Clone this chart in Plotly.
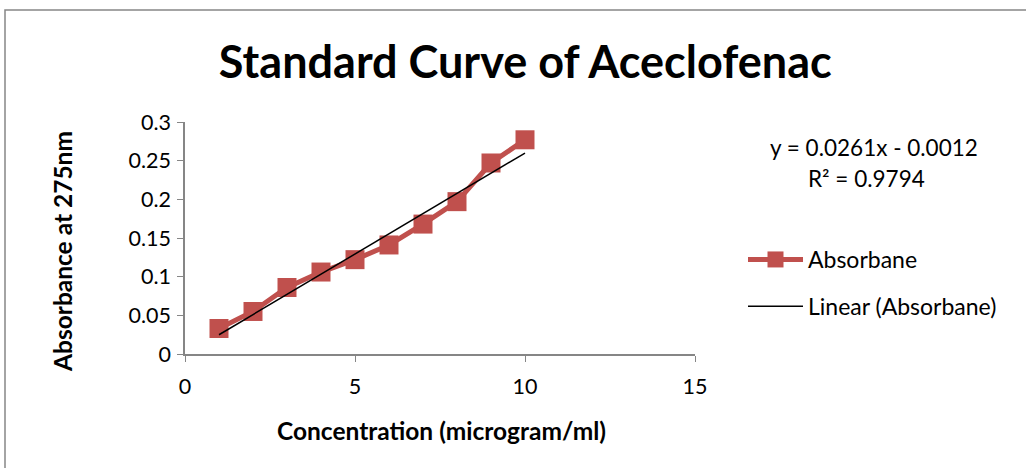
import plotly.graph_objects as go

concentration = [1, 2, 3, 4, 5, 6, 7, 8, 9, 10]
absorbance = [0.033, 0.055, 0.086, 0.106, 0.122, 0.141, 0.168, 0.197, 0.247, 0.277]
slope = 0.0261
intercept = -0.0012
r_squared = 0.9794
x_ticks = [0, 5, 10, 15]
y_ticks = [0, 0.05, 0.1, 0.15, 0.2, 0.25, 0.3]
y_tick_labels = ["0", "0.05", "0.1", "0.15", "0.2", "0.25", "0.3"]

FONT = "Lato, 'Open Sans', sans-serif"
RED = "#C0504D"
GRAY = "#868686"

trend_x = [concentration[0], concentration[-1]]
trend_y = [slope * v + intercept for v in trend_x]

fig = go.Figure()
fig.add_trace(go.Scatter(
    x=concentration, y=absorbance, mode="lines+markers", name="Absorbane",
    line=dict(color=RED, width=5),
    marker=dict(symbol="square", size=19, color=RED),
    legendgroup="a",
))
fig.add_trace(go.Scatter(
    x=trend_x, y=trend_y, mode="lines", name="Linear (Absorbane)",
    line=dict(color="black", width=1.5),
    legendgroup="b",
))

L, R, T, B = 185, 1026 - 695, 122, 468 - 354
pw, ph = 1026 - L - R, 468 - T - B

def px(x):
    return (x - L) / pw

def py(y):
    return (468 - B - y) / ph

eq_text = f"y = {slope:.4f}x - {abs(intercept):.4f}"

fig.update_layout(
    width=1026, height=468,
    margin=dict(l=L, r=R, t=T, b=B, pad=0),
    paper_bgcolor="white", plot_bgcolor="white",
    font=dict(family=FONT, size=21, color="black"),
    title=dict(text="<b>Standard Curve of Aceclofenac</b>", x=0.512, xref="container",
               y=1 - 62 / 468, yref="container", xanchor="center", yanchor="middle",
               font=dict(family=FONT, size=45, color="black")),
    xaxis=dict(range=[0, 15], tickvals=x_ticks, showgrid=False, zeroline=False,
               showline=True, linecolor=GRAY, linewidth=1.5, ticks="outside",
               ticklen=6, tickcolor=GRAY, tickfont=dict(size=21.5), ticklabelstandoff=6),
    yaxis=dict(range=[0, 0.3], tickvals=y_ticks, ticktext=y_tick_labels, showgrid=False,
               zeroline=False, showline=True, linecolor=GRAY, linewidth=1.5,
               ticks="outside", ticklen=6, tickcolor=GRAY, tickfont=dict(size=21.5),
               ticklabelstandoff=2),
    showlegend=True,
    legend=dict(x=px(743), y=py(238), xanchor="left", yanchor="top",
                font=dict(size=23), tracegroupgap=14, traceorder="grouped",
                itemwidth=55, bgcolor="rgba(0,0,0,0)"),
    annotations=[
        dict(text=eq_text, x=px(874), y=py(147), xref="paper", yref="paper", showarrow=False,
             xanchor="center", yanchor="middle", font=dict(size=22.5)),
        dict(text=f"R² = {r_squared}", x=px(866), y=py(178), xref="paper", yref="paper",
             showarrow=False, xanchor="center", yanchor="middle", font=dict(size=22.5)),
        dict(text="<b>Concentration (microgram/ml)</b>", x=px(441), y=py(430), xref="paper",
             yref="paper", showarrow=False, xanchor="center", yanchor="middle",
             font=dict(size=24.5)),
        dict(text="<b>Absorbance at 275nm</b>", x=px(62), y=py(252), xref="paper",
             yref="paper", showarrow=False, xanchor="center", yanchor="middle",
             textangle=-90, font=dict(size=24.5)),
    ],
    shapes=[dict(type="rect", xref="paper", yref="paper", x0=px(5), x1=px(1040),
                 y0=py(480), y1=py(10), line=dict(color=GRAY, width=1.5),
                 fillcolor="rgba(0,0,0,0)", layer="below")],
)

fig.write_html("out.html")
